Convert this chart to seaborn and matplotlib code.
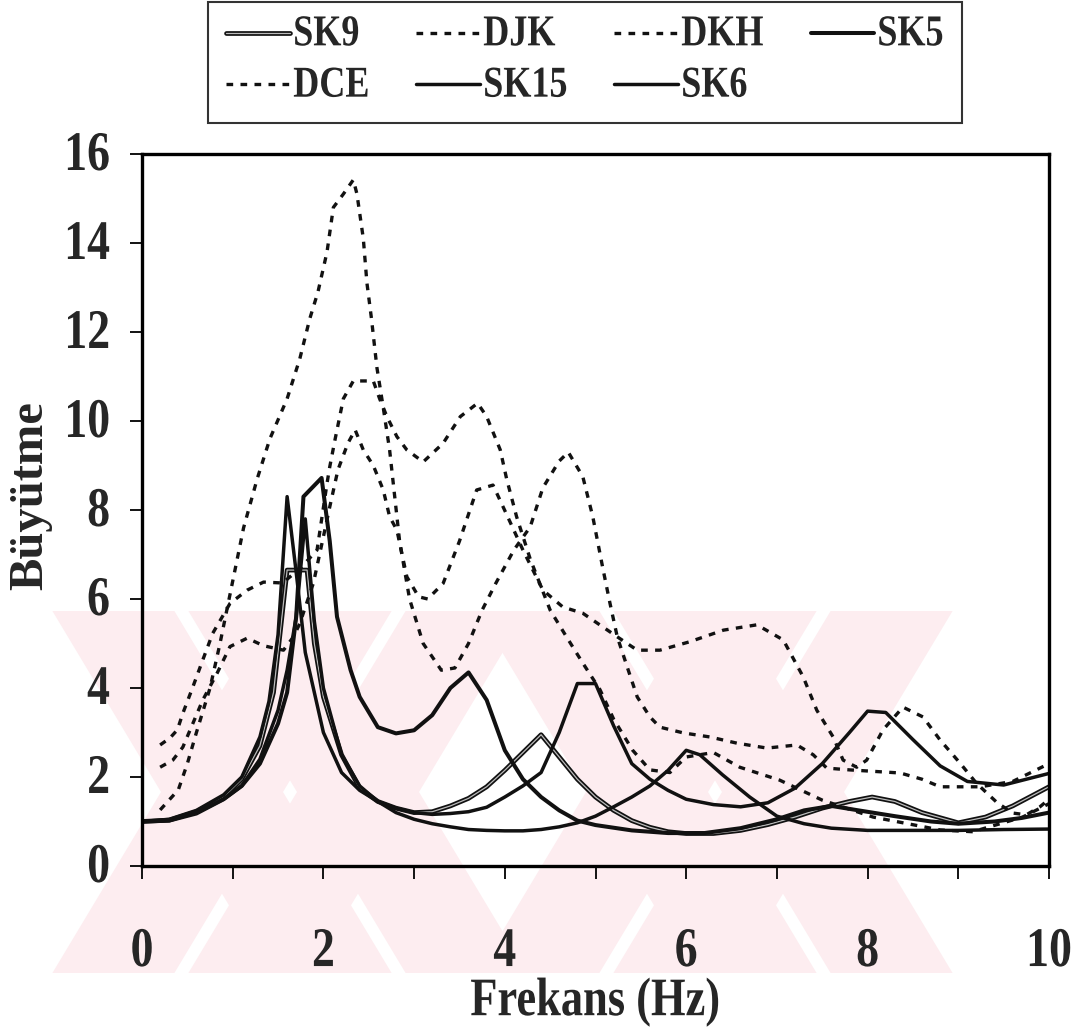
import matplotlib
matplotlib.use("Agg")
import matplotlib.pyplot as plt
import matplotlib.patheffects as pe
from matplotlib.patches import Polygon
from matplotlib.transforms import Affine2D
import seaborn as sns
import pandas as pd

# ---- frequency / amplification readings for each site ----
sk9_hz = [0, 0.3, 0.6, 0.9, 1.1, 1.3, 1.45, 1.6, 1.82, 1.9, 2.0, 2.2, 2.4, 2.6, 2.8, 3.0, 3.2, 3.4, 3.6,
          3.8, 4.0, 4.2, 4.4, 4.6, 4.8, 5.0, 5.2, 5.4, 5.6, 5.8, 6.0, 6.3, 6.6, 6.9, 7.2, 7.5, 7.8, 8.05,
          8.3, 8.6, 9.0, 9.3, 9.6, 10]
sk9_amp = [1.0, 1.03, 1.22, 1.55, 1.95, 2.7, 3.9, 6.65, 6.65, 5.0, 3.8, 2.5, 1.75, 1.45, 1.3, 1.2, 1.22,
           1.35, 1.52, 1.78, 2.15, 2.55, 2.95, 2.45, 1.95, 1.55, 1.25, 1.02, 0.87, 0.77, 0.73, 0.73, 0.8,
           0.93, 1.1, 1.3, 1.45, 1.55, 1.45, 1.2, 0.97, 1.1, 1.35, 1.78]

sk5_hz = [0, 0.3, 0.6, 0.9, 1.1, 1.3, 1.5, 1.6, 1.7, 1.78, 1.98, 2.07, 2.15, 2.3, 2.4, 2.6, 2.8, 3.0,
          3.2, 3.4, 3.6, 3.8, 4.0, 4.2, 4.4, 4.6, 4.8, 5.0, 5.4, 5.8, 6.2, 6.6, 7.0, 7.3, 7.6, 7.9, 8.3,
          8.7, 9.0, 9.4, 9.7, 10]
sk5_amp = [1.0, 1.02, 1.18, 1.5, 1.8, 2.3, 3.2, 3.9, 5.6, 8.3, 8.72, 7.3, 5.6, 4.4, 3.8, 3.12, 2.98,
           3.05, 3.39, 4.0, 4.35, 3.73, 2.6, 1.95, 1.55, 1.25, 1.02, 0.92, 0.8, 0.74, 0.74, 0.85, 1.05,
           1.25, 1.35, 1.25, 1.12, 1.0, 0.95, 1.0, 1.08, 1.2]

sk15_hz = [0, 0.3, 0.6, 0.9, 1.1, 1.3, 1.4, 1.5, 1.6, 1.7, 1.8, 2.0, 2.2, 2.4, 2.6, 2.8, 3.0, 3.2, 3.4,
           3.6, 3.8, 4.0, 4.2, 4.4, 4.6, 4.8, 5.0, 5.2, 5.4, 5.6, 5.8, 6.0, 6.3, 6.6, 6.9, 7.2, 7.5, 7.8,
           8.0, 8.2, 8.5, 8.8, 9.1, 9.5, 10]
sk15_amp = [1.0, 1.05, 1.25, 1.6, 2.0, 2.9, 3.7, 5.2, 8.3, 6.6, 4.8, 3.0, 2.1, 1.7, 1.45, 1.3, 1.2,
            1.16, 1.18, 1.22, 1.32, 1.55, 1.8, 2.1, 3.0, 4.1, 4.1, 3.15, 2.3, 1.95, 1.7, 1.5, 1.38,
            1.33, 1.42, 1.75, 2.3, 3.0, 3.48, 3.45, 2.84, 2.25, 1.9, 1.82, 2.08]

sk6_hz = [0, 0.3, 0.6, 0.9, 1.1, 1.3, 1.5, 1.6, 1.7, 1.8, 1.9, 2.0, 2.2, 2.4, 2.6, 2.8, 3.0, 3.2, 3.4,
          3.6, 3.8, 4.0, 4.2, 4.4, 4.6, 4.8, 5.0, 5.2, 5.4, 5.6, 5.8, 6.0, 6.15, 6.4, 6.7, 7.0, 7.3,
          7.6, 8.0, 8.5, 9.0, 9.5, 10]
sk6_amp = [1.0, 1.03, 1.2, 1.5, 1.8, 2.4, 3.5, 4.4, 5.6, 7.8, 5.5, 4.0, 2.5, 1.8, 1.45, 1.2, 1.05,
           0.95, 0.88, 0.82, 0.8, 0.79, 0.79, 0.82, 0.88, 0.97, 1.12, 1.33, 1.55, 1.8, 2.15, 2.6, 2.5,
           2.05, 1.55, 1.12, 0.95, 0.85, 0.8, 0.8, 0.8, 0.82, 0.83]

djk_hz = [0.2, 0.4, 0.5, 0.6, 0.75, 0.86, 0.97, 1.05, 1.12, 1.27, 1.41, 1.6, 1.74, 1.85, 1.94, 2.04,
          2.11, 2.22, 2.33, 2.37, 2.44, 2.48, 2.53, 2.59, 2.66, 2.73, 2.84, 2.95, 3.1, 3.3, 3.45, 3.6,
          3.75, 3.9, 4.1, 4.28, 4.42, 4.6, 4.7, 4.86, 4.97, 5.08, 5.16, 5.24, 5.35, 5.46, 5.6, 5.71,
          5.97, 6.26, 6.56, 6.89, 7.22, 7.4, 7.55, 7.8, 8.36, 8.6, 8.8, 9.24, 9.6, 10]
djk_amp = [1.26, 1.71, 2.3, 3.0, 4.0, 5.0, 6.1, 6.9, 7.6, 8.7, 9.6, 10.5, 11.4, 12.3, 12.9, 13.8, 14.8,
           15.1, 15.42, 15.1, 14.1, 13.1, 12.3, 11.2, 10.3, 9.35, 7.3, 6.0, 5.0, 4.4, 4.45, 5.0, 5.75,
           6.35, 7.1, 7.62, 8.5, 9.1, 9.3, 8.75, 7.85, 6.7, 5.9, 5.15, 4.47, 3.8, 3.35, 3.12, 2.99,
           2.9, 2.76, 2.65, 2.72, 2.5, 2.2, 2.16, 2.09, 1.95, 1.78, 1.78, 1.9, 2.3]

dkh_hz = [0.2, 0.31, 0.39, 0.45, 0.56, 0.67, 0.78, 0.97, 1.16, 1.34, 1.55, 1.75, 1.93, 2.04, 2.07,
          2.13, 2.18, 2.22, 2.33, 2.55, 2.62, 2.7, 2.81, 2.92, 3.1, 3.32, 3.51, 3.7, 3.8, 3.95, 4.02,
          4.13, 4.28, 4.5, 4.68, 4.86, 5.05, 5.2, 5.41, 5.6, 5.82, 6.0, 6.3, 6.59, 7.03, 7.5, 8.06,
          8.8, 9.16, 9.71, 10]
dkh_amp = [2.72, 2.88, 3.06, 3.43, 4.02, 4.63, 5.23, 5.9, 6.2, 6.38, 6.36, 6.7, 7.1, 8.6, 8.97, 9.6,
           10.1, 10.5, 10.9, 10.9, 10.5, 10.1, 9.65, 9.35, 9.08, 9.5, 10.1, 10.4, 10.1, 9.35, 8.7, 7.85,
           6.9, 5.75, 5.15, 4.56, 3.96, 3.3, 2.6, 2.16, 2.1, 2.45, 2.55, 2.22, 1.93, 1.48, 1.1, 0.81,
           0.77, 1.1, 1.4]

dce_hz = [0.2, 0.34, 0.45, 0.67, 0.83, 0.97, 1.16, 1.34, 1.56, 1.67, 1.74, 1.89, 2.0, 2.07, 2.16, 2.27,
          2.35, 2.44, 2.55, 2.66, 2.73, 2.81, 2.92, 3.05, 3.15, 3.32, 3.5, 3.69, 3.87, 4.02, 4.2, 4.42,
          4.64, 4.86, 5.24, 5.46, 5.71, 6.04, 6.41, 6.78, 7.07, 7.29, 7.44, 7.62, 7.73, 7.88, 7.99,
          8.17, 8.39, 8.61, 8.8, 9.02, 9.2, 9.43, 9.6, 9.75, 9.9, 10]
dce_amp = [2.22, 2.38, 2.67, 3.73, 4.34, 4.93, 5.12, 4.95, 4.85, 5.15, 5.45, 6.36, 7.4, 8.07, 8.9, 9.5,
           9.8, 9.35, 9.0, 8.45, 7.85, 7.55, 6.5, 6.05, 6.0, 6.35, 7.3, 8.45, 8.56, 7.9, 7.1, 6.2, 5.82,
           5.68, 5.15, 4.85, 4.85, 5.04, 5.3, 5.42, 5.08, 4.25, 3.5, 2.9, 2.38, 2.22, 2.38, 3.06, 3.57,
           3.35, 2.83, 2.31, 1.86, 1.42, 1.19, 1.15, 1.33, 1.5]

x_ticks = [0, 2, 4, 6, 8, 10]
y_ticks = [0, 2, 4, 6, 8, 10, 12, 14, 16]
x_label = "Frekans (Hz)"
y_label = "Büyütme"


class TallText(pe.AbstractPathEffect):
    """Draw glyphs stretched vertically about their baseline (tall printed type)."""

    def __init__(self, factor):
        super().__init__()
        self.factor = factor

    def draw_path(self, renderer, gc, tpath, affine, rgbFace=None):
        m = affine.get_matrix()
        tx, ty = m[0, 2], m[1, 2]
        stretch = Affine2D().translate(-tx, -ty).scale(1, self.factor).translate(tx, ty)
        renderer.draw_path(gc, tpath, affine + stretch, rgbFace)


# ---- style ----
sns.set_theme(style="ticks")
plt.rcParams["font.family"] = ["Liberation Serif", "DejaVu Serif"]
plt.rcParams["font.weight"] = "bold"

W, H = 1088, 1031
fig = plt.figure(figsize=(W / 100, H / 100), dpi=100)
fig.patch.set_facecolor("white")

ax = fig.add_axes([142 / W, 1 - 866 / H, (1049 - 142) / W, (866 - 154) / H])
ax.set_facecolor("none")

# pale crossed-band emblem printed behind the plot
pink = "#fdedf0"
y_top, y_bot, cy = 611, 973, 792
k = 0.6
stripe, offset = 122, 68


def px_to_fig(pts):
    return [(px / W, 1 - py / H) for px, py in pts]


for cx in (290, 715):
    for sign in (-1, 1):
        for off in (-offset, offset):
            def xc(py):
                return cx + sign * k * (py - cy) + off
            pts = [(xc(y_top) - stripe / 2, y_top), (xc(y_top) + stripe / 2, y_top),
                   (xc(y_bot) + stripe / 2, y_bot), (xc(y_bot) - stripe / 2, y_bot)]
            poly = Polygon(px_to_fig(pts), closed=True, transform=fig.transFigure,
                           facecolor=pink, edgecolor="none", zorder=-5)
            fig.patches.append(poly)

# ---- series ----
dotted = (0, (2.0, 2.2))
series = [
    ("SK9", sk9_hz, sk9_amp, "-", 3.4),
    ("SK5", sk5_hz, sk5_amp, "-", 2.9),
    ("SK15", sk15_hz, sk15_amp, "-", 2.5),
    ("SK6", sk6_hz, sk6_amp, "-", 2.5),
    ("DJK", djk_hz, djk_amp, dotted, 2.4),
    ("DKH", dkh_hz, dkh_amp, dotted, 2.4),
    ("DCE", dce_hz, dce_amp, dotted, 2.4),
]

lines = {}
for name, hz, amp, ls, lw in series:
    df = pd.DataFrame({"hz": hz, "amp": amp})
    sns.lineplot(data=df, x="hz", y="amp", ax=ax, color="#111111", linewidth=lw,
                 linestyle=ls, estimator=None, label=name, legend=False)
    ln = ax.get_lines()[-1]
    if name == "SK9":
        ln.set_path_effects([pe.Stroke(linewidth=lw, foreground="#111111"),
                             pe.Stroke(linewidth=0.9, foreground="#bbbbbb")])
    lines[name] = ln

# ---- axes ----
ax.set_xlim(0, 10)
ax.set_ylim(0, 16)
ax.set_xticks(x_ticks)
ax.set_xticks(range(0, 11), minor=True)
ax.set_yticks(y_ticks)
for s in ax.spines.values():
    s.set_visible(True)
    s.set_linewidth(2.4)
    s.set_color("black")
ax.tick_params(axis="both", which="both", direction="out", color="black", width=1.3)
ax.tick_params(axis="x", which="major", length=9, pad=40, labelsize=33)
ax.tick_params(axis="x", which="minor", length=9)
ax.tick_params(axis="y", which="major", length=9, pad=14, labelsize=33)
ax.set_xlabel(x_label, fontsize=32, fontweight="bold")
ax.xaxis.set_label_coords(0.5, -0.166)
ax.set_ylabel(y_label, fontsize=35, fontweight="bold")
ax.yaxis.set_label_coords(-0.099, 0.52)
ax.grid(False)

tall = [TallText(1.22)]
for lab in ax.get_xticklabels() + ax.get_yticklabels():
    lab.set_path_effects(tall)
ax.xaxis.label.set_path_effects(tall)

# legend laid out row by row: SK9 DJK DKH SK5 / DCE SK15 SK6
order = ["SK9", "DCE", "DJK", "SK15", "DKH", "SK6", "SK5"]
leg = fig.legend([lines[n] for n in order], order, loc="upper center",
                 bbox_to_anchor=(585 / W, 1 - 2 / H), borderaxespad=0, ncol=4, frameon=True,
                 fancybox=False, edgecolor="black", fontsize=26, handlelength=1.75,
                 handletextpad=0.1, columnspacing=1.3, borderpad=0.5, labelspacing=0.5)
leg.get_frame().set_linewidth(1.5)
for t in leg.get_texts():
    t.set_path_effects(tall)

fig.savefig("out.png", dpi=100, facecolor="white")
